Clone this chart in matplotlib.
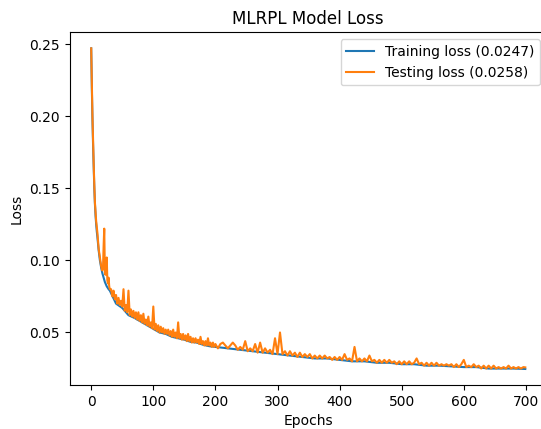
"""
MLRPL model loss curve (training vs testing) read off the reference picture.
"""
import matplotlib
matplotlib.use("Agg")
import matplotlib.pyplot as plt

# ---- Data -------------------------------------------------------------------
train_epochs = [0, 1, 2, 3, 4, 5, 6, 7, 8, 9, 10, 12, 14, 16, 18, 20, 22, 25,
                28, 30, 40, 50, 60, 70, 80, 90, 100, 110, 120, 130, 140, 150,
                160, 170, 180, 190, 200, 220, 240, 260, 280, 300, 320, 340,
                360, 380, 400, 420, 440, 460, 480, 500, 520, 540, 560, 580,
                600, 620, 640, 660, 680, 699]
train_loss = [0.247, 0.220, 0.198, 0.180, 0.165, 0.150, 0.139, 0.131, 0.125,
              0.120, 0.116, 0.107, 0.100, 0.095, 0.091, 0.088, 0.085, 0.082,
              0.080, 0.079, 0.070, 0.067, 0.062, 0.060, 0.0575, 0.055, 0.0525,
              0.050, 0.049, 0.047, 0.046, 0.045, 0.0435, 0.043, 0.0415,
              0.0405, 0.040, 0.039, 0.038, 0.037, 0.036, 0.035, 0.034, 0.033,
              0.032, 0.032, 0.031, 0.030, 0.030, 0.029, 0.029, 0.028, 0.028,
              0.027, 0.027, 0.0265, 0.026, 0.026, 0.025, 0.025, 0.025, 0.0247]

# epochs 0-30 one by one, 32-200 every 2, 204-696 every 4, then the last one
test_epochs = (list(range(0, 31)) + list(range(32, 201, 2))
               + list(range(204, 697, 4)) + [699])
test_loss = [
    # 0 - 30
    0.247, 0.222, 0.200, 0.182, 0.167, 0.152, 0.140, 0.133, 0.127, 0.123,
    0.119, 0.113, 0.108, 0.105, 0.102, 0.099, 0.096, 0.094, 0.093, 0.095,
    0.110, 0.122, 0.092, 0.090, 0.095, 0.102, 0.086, 0.084, 0.088, 0.082,
    0.080,
    # 32 - 200 (step 2)
    0.080, 0.075, 0.079, 0.073, 0.076, 0.070, 0.074, 0.069, 0.072, 0.068,
    0.080, 0.065, 0.069, 0.064, 0.079, 0.062, 0.066, 0.061, 0.065, 0.060,
    0.064, 0.059, 0.064, 0.058, 0.062, 0.057, 0.063, 0.056, 0.059, 0.055,
    0.061, 0.054, 0.057, 0.053, 0.068, 0.052, 0.056, 0.051, 0.055, 0.050,
    0.054, 0.050, 0.053, 0.049, 0.052, 0.049, 0.052, 0.048, 0.051, 0.047,
    0.052, 0.047, 0.050, 0.046, 0.057, 0.046, 0.049, 0.045, 0.049, 0.045,
    0.048, 0.044, 0.049, 0.044, 0.047, 0.043, 0.046, 0.043, 0.046, 0.043,
    0.045, 0.042, 0.047, 0.042, 0.044, 0.041, 0.044, 0.041, 0.046, 0.041,
    0.043, 0.040, 0.043, 0.040, 0.042,
    # 204 - 696 (step 4)
    0.039, 0.042, 0.043, 0.041, 0.039, 0.041, 0.043, 0.041, 0.038, 0.040,
    0.038, 0.044, 0.037, 0.039, 0.037, 0.042, 0.036, 0.043, 0.036, 0.039,
    0.036, 0.038, 0.035, 0.046, 0.035, 0.050, 0.035, 0.037, 0.034, 0.037,
    0.034, 0.036, 0.033, 0.036, 0.033, 0.035, 0.033, 0.035, 0.032, 0.034,
    0.032, 0.034, 0.032, 0.034, 0.032, 0.033, 0.031, 0.033, 0.031, 0.033,
    0.031, 0.035, 0.031, 0.032, 0.030, 0.040, 0.030, 0.032, 0.030, 0.032,
    0.030, 0.034, 0.030, 0.031, 0.029, 0.031, 0.029, 0.031, 0.029, 0.031,
    0.029, 0.030, 0.028, 0.030, 0.028, 0.030, 0.028, 0.030, 0.028, 0.029,
    0.032, 0.028, 0.029, 0.027, 0.029, 0.027, 0.029, 0.027, 0.029, 0.027,
    0.028, 0.027, 0.028, 0.027, 0.028, 0.026, 0.028, 0.026, 0.028, 0.031,
    0.026, 0.027, 0.026, 0.028, 0.026, 0.027, 0.025, 0.027, 0.025, 0.027,
    0.025, 0.027, 0.025, 0.026, 0.025, 0.026, 0.025, 0.027, 0.025, 0.026,
    0.025, 0.026, 0.025, 0.026,
    # 699
    0.0258,
]

TITLE = "MLRPL Model Loss"
LABEL_TRAIN = "Training loss (0.0247)"
LABEL_TEST = "Testing loss (0.0258)"

# ---- Figure ------------------------------------------------------------------
W, H = 541, 429
fig = plt.figure(figsize=(W / 100, H / 100), dpi=100)
# axes box in pixels: left 69.5, right 547 (slightly cut off), top 32, bottom 385
ax = fig.add_axes([69.5 / W, (H - 385) / H, (547 - 69.5) / W, (385 - 32.3) / H])

ax.plot(train_epochs, train_loss, color="#1f77b4", lw=1.5, label=LABEL_TRAIN)
ax.plot(test_epochs, test_loss, color="#ff7f0e", lw=1.5, label=LABEL_TEST)

ax.set_title(TITLE, fontsize=12)
ax.set_xlabel("Epochs")
ax.set_ylabel("Loss")
ax.set_xticks([0, 100, 200, 300, 400, 500, 600, 700])
ax.set_yticks([0.05, 0.10, 0.15, 0.20, 0.25])
ax.legend(loc="upper right")

fig.savefig("out.png", dpi=100)
plt.close(fig)
